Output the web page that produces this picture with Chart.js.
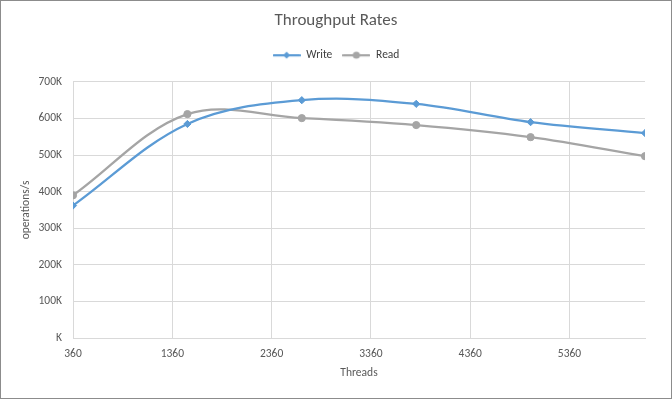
<!DOCTYPE html>
<html>
<head>
<meta charset="utf-8">
<script src="https://cdn.jsdelivr.net/npm/chart.js@4/dist/chart.umd.min.js"></script>
<style>
  html, body { margin: 0; padding: 0; background: #fff; }
  #wrap { width: 672px; height: 399px; box-sizing: border-box; border: 1px solid #8c8c8c; background: #fff; }
  #c { display: block; }
</style>
</head>
<body>
<div id="wrap"><canvas id="c" width="670" height="397"></canvas></div>
<script>
// ---- Data ----
const threads = [360, 1512, 2664, 3816, 4968, 6120];
const writeOps = [362000, 585000, 650000, 640000, 590000, 560000];
const readOps = [390000, 612000, 601000, 582000, 549000, 497000];
const xTickValues = [360, 1360, 2360, 3360, 4360, 5360];
const yTickValues = [0, 100000, 200000, 300000, 400000, 500000, 600000, 700000];
const seriesNames = ['Write', 'Read'];
const chartTitle = 'Throughput Rates';
const xTitle = 'Threads';
const yTitle = 'operations/s';

const BLUE = '#5B9BD5';
const GRAY = '#A5A5A5';
const TEXT = '#595959';
const GRID = '#D9D9D9';
const FONT = 'Carlito, Lato, "Open Sans", sans-serif';
const FS = 11.5;

function legendIcon(color, style) {
  const cv = document.createElement('canvas');
  cv.width = 28; cv.height = 10;
  const g = cv.getContext('2d');
  g.strokeStyle = color; g.lineWidth = 2.25; g.lineCap = 'round';
  g.beginPath(); g.moveTo(1, 5); g.lineTo(27, 5); g.stroke();
  g.fillStyle = color;
  g.beginPath();
  if (style === 'rectRot') {
    g.moveTo(14, 1.5); g.lineTo(17.5, 5); g.lineTo(14, 8.5); g.lineTo(10.5, 5); g.closePath();
  } else {
    g.arc(14, 5, 3.6, 0, Math.PI * 2);
  }
  g.fill();
  return cv;
}
const icons = [legendIcon(BLUE, 'rectRot'), legendIcon(GRAY, 'circle')];

new Chart(document.getElementById('c'), {
  type: 'line',
  data: {
    datasets: [
      {
        label: seriesNames[0],
        data: threads.map((t, i) => ({ x: t, y: writeOps[i] })),
        borderColor: BLUE, backgroundColor: BLUE,
        borderWidth: 2.25, tension: 0.35,
        pointStyle: 'rectRot', pointRadius: 3.6, pointHoverRadius: 3.6,
        pointBorderWidth: 1
      },
      {
        label: seriesNames[1],
        data: threads.map((t, i) => ({ x: t, y: readOps[i] })),
        borderColor: GRAY, backgroundColor: GRAY,
        borderWidth: 2.25, tension: 0.35,
        pointStyle: 'circle', pointRadius: 3.6, pointHoverRadius: 3.6,
        pointBorderWidth: 1
      }
    ]
  },
  options: {
    responsive: false,
    animation: false,
    events: [],
    layout: { padding: 0 },
    plugins: {
      title: {
        display: true, text: chartTitle, color: TEXT,
        font: { family: FONT, size: 17, weight: 'normal' },
        padding: { top: 10, bottom: 8 }
      },
      legend: {
        display: true, position: 'top',
        labels: {
          color: '#404040',
          font: { family: FONT, size: FS },
          usePointStyle: true, pointStyleWidth: 28, boxHeight: 10,
          padding: 10,
          generateLabels: (chart) => chart.data.datasets.map((d, i) => ({
            text: d.label, pointStyle: icons[i], fontColor: '#404040',
            strokeStyle: d.borderColor, fillStyle: d.borderColor, lineWidth: 0,
            hidden: false, datasetIndex: i
          }))
        }
      },
      tooltip: { enabled: false }
    },
    scales: {
      x: {
        type: 'linear', min: threads[0], max: threads[threads.length - 1],
        afterBuildTicks: (s) => { s.ticks = xTickValues.map(v => ({ value: v })); },
        afterFit: (s) => { s.height = 60; },
        grid: { color: GRID, lineWidth: 1, drawTicks: false },
        border: { color: GRID },
        ticks: { color: TEXT, font: { family: FONT, size: FS }, padding: 9, maxRotation: 0, autoSkip: false,
                 callback: (v) => String(v) },
        title: { display: true, text: xTitle, color: TEXT, font: { family: FONT, size: FS }, padding: { top: 4, bottom: 18 } }
      },
      xTop: {
        type: 'linear', position: 'top', display: true,
        grid: { display: false }, border: { display: false }, ticks: { display: false },
        afterFit: (s) => { s.height = 11; }
      },
      y: {
        min: 0, max: 700000,
        afterBuildTicks: (s) => { s.ticks = yTickValues.map(v => ({ value: v })); },
        afterFit: (s) => { s.width = 72; },
        grid: { color: GRID, lineWidth: 1, drawTicks: false },
        border: { display: false },
        ticks: {
          color: TEXT, font: { family: FONT, size: FS }, padding: 11,
          callback: (v) => (v === 0 ? '' : String(v / 1000)) + 'K'
        },
        title: { display: true, text: yTitle, color: TEXT, font: { family: FONT, size: FS }, padding: { top: 18, bottom: 0 } }
      },
      yRight: {
        type: 'linear', position: 'right', display: true,
        grid: { display: false }, border: { display: false }, ticks: { display: false },
        afterFit: (s) => { s.width = 26; }
      }
    }
  }
});
</script>
</body>
</html>
